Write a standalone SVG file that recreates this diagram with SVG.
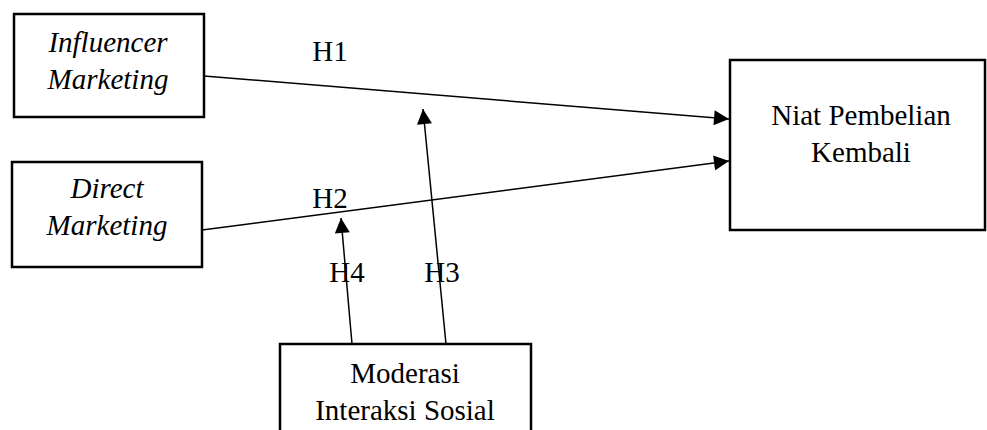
<svg xmlns="http://www.w3.org/2000/svg" width="987" height="430" viewBox="0 0 987 430">
<style>
.box{fill:#fff;stroke:#000;stroke-width:2.5}
.t{font-family:"Liberation Serif","Times New Roman",serif;font-size:29px;fill:#000;text-anchor:middle}
.i{font-style:italic}
.c{stroke:#000;stroke-width:1.5;fill:none;marker-end:url(#ah)}
</style>
<defs>
<marker id="ah" viewBox="0 0 10 10" refX="10" refY="5" markerWidth="16" markerHeight="15" markerUnits="userSpaceOnUse" orient="auto">
<path d="M0,0 L10,5 L0,10 z" fill="#000"/>
</marker>
</defs>
<rect width="987" height="430" fill="#fff"/>
<g id="connectors">
<line class="c" x1="204" y1="76" x2="729" y2="119"/>
<line class="c" x1="202" y1="230" x2="729" y2="161"/>
<line class="c" x1="352" y1="344" x2="341" y2="218"/>
<line class="c" x1="446" y1="344" x2="423" y2="109"/>
</g>
<g id="labels">
<text class="t" x="330" y="61">H1</text>
<text class="t" x="330" y="208">H2</text>
<text class="t" x="347" y="282">H4</text>
<text class="t" x="442" y="282">H3</text>
</g>
<g id="influencer">
<rect class="box" x="14" y="14" width="190" height="103"/>
<text class="t i" x="108" y="52">Influencer</text>
<text class="t i" x="108" y="89">Marketing</text>
</g>
<g id="direct">
<rect class="box" x="12" y="162" width="190" height="105"/>
<text class="t i" x="107" y="198">Direct</text>
<text class="t i" x="107" y="235">Marketing</text>
</g>
<g id="niat">
<rect class="box" x="730" y="60" width="255" height="170"/>
<text class="t" x="861" y="125">Niat Pembelian</text>
<text class="t" x="861" y="162">Kembali</text>
</g>
<g id="moderasi">
<rect class="box" x="280" y="344" width="251" height="100"/>
<text class="t" x="405" y="383">Moderasi</text>
<text class="t" x="405" y="420">Interaksi Sosial</text>
</g>
</svg>
